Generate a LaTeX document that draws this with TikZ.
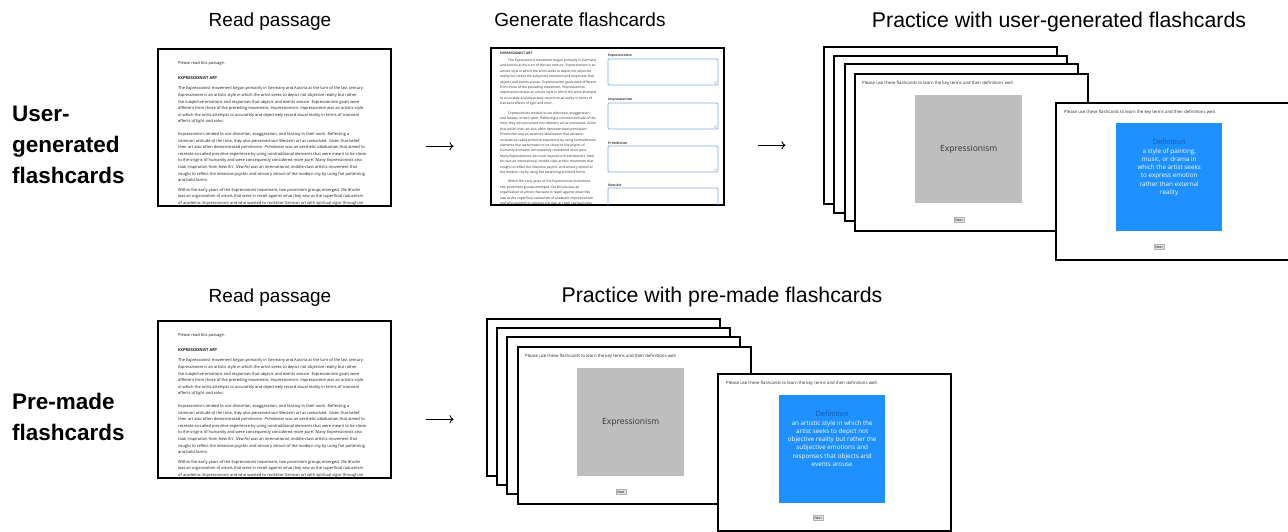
\documentclass[tikz,border=0pt]{standalone}
\usepackage{fontspec}
\setmainfont{Liberation Sans}
\newfontfamily\uifont{Open Sans}
\usetikzlibrary{arrows.meta,positioning}

\definecolor{termgray}{RGB}{190,190,190}
\definecolor{defblue}{RGB}{30,144,255}
\definecolor{deftitle}{RGB}{16,88,168}
\definecolor{fieldblue}{RGB}{125,172,232}

% passage shown in the screenshots (line breaks as on screen)
\newcommand{\passagehead}{{\bfseries EXPRESSIONIST ART}}
\newcommand{\passagefull}{Please read this passage.\\[8.5pt]
\passagehead\\[3.4pt]
The Expressionist movement began primarily in Germany and Austria at the turn of the last century.\\
\textit{Expressionism} is an artistic style in which the artist seeks to depict not objective reality but rather\\
the subjective emotions and responses that objects and events arouse. Expressionism goals were\\
different from those of the preceding movement, Impressionism. \textit{Impressionism} was an artistic style\\
in which the artist attempts to accurately and objectively record visual reality in terms of transient\\
effects of light and color.\\[6pt]
Expressionists tended to use distortion, exaggeration, and fantasy in their work. Reflecting a\\
common attitude of the time, they also perceived non-Western art as unevolved. Given that belief,\\
their art also often demonstrated primitivism. \textit{Primitivism} was an aesthetic idealization that aimed to\\
recreate so-called primitive experience by using nontraditional elements that were meant to be closer\\
to the origins of humanity and were consequently considered more pure. Many Expressionists also\\
took inspiration from New Art. \textit{New Art} was an international, middle-class artistic movement that\\
sought to reflect the intensive psychic and sensory stimuli of the modern city by using flat patterning\\
and bold forms.\\[3pt]
Within the early years of the Expressionist movement, two prominent groups emerged. \textit{Die Br\"ucke}\\
was an organization of artists that were in revolt against what they saw as the superficial naturalism\\
of academic Impressionism and who wanted to revitalize German art with spiritual vigor through an\\
emphasis on bold colors and simplified forms.}
\newcommand{\passagecolumn}{\passagehead\\[2pt]
\hspace*{8pt}The Expressionist movement began primarily in Germany\\
and Austria at the turn of the last century. Expressionism is an\\
artistic style in which the artist seeks to depict not objective\\
reality but rather the subjective emotions and responses that\\
objects and events arouse. Expressionism goals were different\\
from those of the preceding movement, Impressionism.\\
Impressionism was an artistic style in which the artist attempts\\
to accurately and objectively record visual reality in terms of\\
transient effects of light and color.\\[4pt]
\hspace*{8pt}Expressionists tended to use distortion, exaggeration,\\
and fantasy in their work. Reflecting a common attitude of the\\
time, they also perceived non-Western art as unevolved. Given\\
that belief, their art also often demonstrated primitivism.\\
Primitivism was an aesthetic idealization that aimed to\\
recreate so-called primitive experience by using nontraditional\\
elements that were meant to be closer to the origins of\\
humanity and were consequently considered more pure.\\
Many Expressionists also took inspiration from New Art. New\\
Art was an international, middle-class artistic movement that\\
sought to reflect the intensive psychic and sensory stimuli of\\
the modern city by using flat patterning and bold forms.\\[4pt]
\hspace*{8pt}Within the early years of the Expressionist movement,\\
two prominent groups emerged. Die Br\"ucke was an\\
organization of artists that were in revolt against what they\\
saw as the superficial naturalism of academic Impressionism\\
and who wanted to revitalize German art with spiritual vigor\\
through an emphasis on bold colors and simplified forms.}
\newcommand{\cardnotetext}{Please use these flashcards to learn the key terms and their definitions well.}

\begin{document}
\begin{tikzpicture}[x=1pt,y=-1pt,
  steplabel/.style={font=\fontsize{19}{22}\selectfont, anchor=base, inner sep=0pt},
  bigsteplabel/.style={steplabel, font=\fontsize{21.3}{24}\selectfont},
  rowlabel/.style={font=\bfseries\fontsize{22.5}{30.7}\selectfont, align=left, anchor=base west, inner sep=0pt},
  sheet/.style={draw, line width=1.5pt, fill=white, minimum width=233pt, minimum height=157pt, inner sep=0pt, anchor=north west},
  flow/.style={-{Computer Modern Rightarrow[scale=1.1]}, line width=0.9pt},
  passage/.style={font=\uifont\fontsize{4}{6.6}\selectfont, text=black!90, inner sep=0pt, anchor=north west, align=left},
  column/.style={font=\uifont\fontsize{3.3}{5.4}\selectfont, text=black!85, inner sep=0pt, anchor=north west, align=left},
  fieldlabel/.style={font=\uifont\bfseries\fontsize{3.3}{4}\selectfont, text=black!80, inner sep=0pt, anchor=south west},
  field/.style={draw=fieldblue, line width=0.8pt, rounded corners=1pt},
  grip/.style={draw=black!45, line width=0.3pt},
  cardnote/.style={font=\uifont\fontsize{4.3}{5}\selectfont, text=black!85, inner sep=0pt, anchor=north west},
  termbox/.style={fill=termgray, minimum width=107pt, minimum height=108pt, inner sep=0pt, anchor=north west, font=\uifont\fontsize{8.5}{10}\selectfont, text=black!80},
  defbox/.style={fill=defblue, minimum width=106pt, minimum height=108pt, inner sep=0pt, anchor=north west},
  deftext/.style={font=\uifont\fontsize{6.3}{8.3}\selectfont, text=white, align=center, inner sep=0pt, anchor=north},
  nextbtn/.style={fill=black!10, draw=black!30, line width=0.3pt, inner sep=1.3pt, font=\uifont\fontsize{3.4}{3.6}\selectfont}]
\useasboundingbox (0,0) rectangle (1288,531);

% row labels
\node[rowlabel] (urow) at (12,183) {User-\\generated\\flashcards};
\node[rowlabel] (prow) at (12,440) {Pre-made\\flashcards};

% step titles
\node[steplabel] (ureadt) at (270,26) {Read passage};
\node[steplabel] (ugent) at (580,26) {Generate flashcards};
\node[bigsteplabel] (upract) at (1059,27) {Practice with user-generated flashcards};
\node[steplabel] (preadt) at (270,302) {Read passage};
\node[bigsteplabel] (ppract) at (722,302) {Practice with pre-made flashcards};

% ---- user-generated row ----
\node[sheet] (uread) at (157,48) {};
\begin{scope}
\clip ([shift={(1,1)}]uread.north west) rectangle ([shift={(-1,-1)}]uread.south east);
\node[passage] (ureadtxt) at ([shift={(21,13.5)}]uread.north west) {\passagefull};
\end{scope}

\node[sheet] (ugen) at (490,47) {};
\begin{scope}
\clip ([shift={(1,1)}]ugen.north west) rectangle ([shift={(-1,-1)}]ugen.south east);
\node[column] (ugentxt) at ([shift={(10,4.5)}]ugen.north west) {\passagecolumn};
\foreach \n/\fy in {Expressionism/59, Impressionism/103, Primitivism/146, New Art/188} {
  \node[fieldlabel] at (608,\fy-1.5) {\n};
  \draw[field] (608,\fy) rectangle (718,\fy+26);
  \draw[grip] (716.5,\fy+22) -- (714,\fy+24.5) (716.5,\fy+23.5) -- (715.5,\fy+24.5);
}
\end{scope}

\draw[flow] ([shift={(34,19)}]uread.east) -- ++(28,0);
\draw[flow] ([shift={(33,19)}]ugen.east) -- ++(28,0);

\foreach \k/\px/\py in {0/823/46, 1/833/55, 2/844/63, 3/854/73}
  \node[sheet] (ucard\k) at (\px,\py) {};
\node[cardnote] at ([shift={(8,8)}]ucard3.north west) {\cardnotetext};
\node[termbox] (uterm) at ([shift={(61,22)}]ucard3.north west) {Expressionism};
\node[nextbtn] (unext) at ([shift={(105,147)}]ucard3.north west) {Next};

\node[sheet] (udef) at (1055,102) {};
\node[cardnote] at ([shift={(9,8)}]udef.north west) {\cardnotetext};
\node[defbox] (udefbox) at ([shift={(61,21)}]udef.north west) {};
\node[deftext] (udeftxt) at ([yshift=-16pt]udefbox.north)
  {{\fontsize{7.2}{8.3}\selectfont\color{deftitle}Definition}\\a style of painting,\\music, or drama in\\which the artist seeks\\to express emotion\\rather than external\\reality};
\node[nextbtn] (udnext) at ([shift={(104,145)}]udef.north west) {Next};

% ---- pre-made row ----
\node[sheet] (pread) at (157,320) {};
\begin{scope}
\clip ([shift={(1,1)}]pread.north west) rectangle ([shift={(-1,-1)}]pread.south east);
\node[passage] (preadtxt) at ([shift={(21,13.5)}]pread.north west) {\passagefull};
\end{scope}

\draw[flow] ([shift={(34,20)}]pread.east) -- ++(28,0);

\foreach \k/\px/\py in {0/486/318, 1/496/327, 2/506/336, 3/517/346}
  \node[sheet] (pcard\k) at (\px,\py) {};
\node[cardnote] at ([shift={(8,8)}]pcard3.north west) {\cardnotetext};
\node[termbox] (pterm) at ([shift={(60,22)}]pcard3.north west) {Expressionism};
\node[nextbtn] (pnext) at ([shift={(104,146)}]pcard3.north west) {Next};

\node[sheet] (pdef) at (717,373) {};
\node[cardnote] at ([shift={(9,8)}]pdef.north west) {\cardnotetext};
\node[defbox] (pdefbox) at ([shift={(62,22)}]pdef.north west) {};
\node[deftext] (pdeftxt) at ([yshift=-16pt]pdefbox.north)
  {{\fontsize{7.2}{8.3}\selectfont\color{deftitle}Definition}\\an artistic style in which the\\artist seeks to depict not\\objective reality but rather the\\subjective emotions and\\responses that objects and\\events arouse};
\node[nextbtn] (pdnext) at ([shift={(101,145)}]pdef.north west) {Next};
\end{tikzpicture}
\end{document}
